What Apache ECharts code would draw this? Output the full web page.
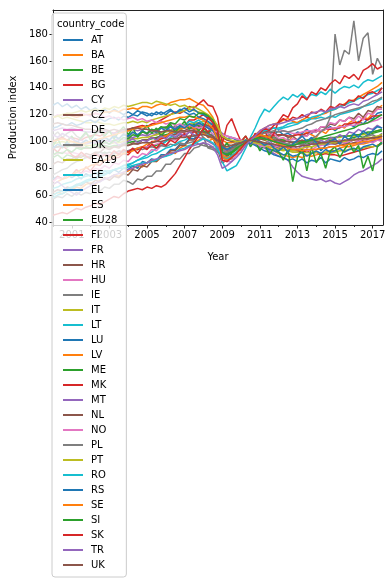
<!DOCTYPE html>
<html><head><meta charset="utf-8">
<script src="https://cdn.jsdelivr.net/npm/echarts@6/dist/echarts.min.js"></script>
<style>html,body{margin:0;padding:0;background:#fff}#c{width:392px;height:581px}</style>
</head><body><div id="c"></div>
<script>
// Quarterly readings, first point Jan 2000, step one quarter
const START_YEAR = 2000;
const STEP = 0.25;
const countries = ["AT","BA","BE","BG","CY","CZ","DE","DK","EA19","EE","EL","ES","EU28","FI","FR","HR","HU","IE","IT","LT","LU","LV","ME","MK","MT","NL","NO","PL","PT","RO","RS","SE","SI","SK","TR","UK"];
const xTickLabels = [2001,2003,2005,2007,2009,2011,2013,2015,2017];
const xMinorTicks = [2000,2002,2004,2006,2008,2010,2012,2014,2016];
const yTickLabels = [40,60,80,100,120,140,160,180];

const AT = [72,74,72,75, 73,75,72,76, 74,77,74,78, 76,79,77,80, 79,82,80,85, 84,87,86,90, 90,94,94,98, 98,102,102,106, 107,104,105,98, 88,86,90,91, 97,98,102,102, 107,107,108,105, 108,105,106,104, 107,106,109,106, 109,108,109,111, 108,111,111,113, 111,115,113,117, 117,121,122];
const BA = [60,62,61,63, 64,66,65,68, 69,68,71,72, 73,75,74,77, 78,80,82,81, 84,86,85,88, 90,92,91,95, 97,96,99,101, 103,100,102,98, 93,95,94,97, 98,101,99,103, 104,102,105,101, 99,102,100,104, 106,104,107,105, 103,108,106,110, 109,112,110,114, 116,113,118,117, 121,124,127];
const BE = [88,90,87,90, 89,87,90,88, 88,91,89,92, 89,91,91,93, 92,94,94,96, 95,97,97,99, 100,102,103,105, 104,107,107,106, 108,106,104,97, 88,89,91,94, 97,100,101,102, 104,103,102,100, 99,98,98,97, 98,99,98,99, 100,99,100,101, 100,101,99,102, 103,104,103,105, 106,107,108];
const BG = [70,74,72,75, 75,79,76,81, 78,83,82,86, 86,88,88,91, 90,94,94,96, 96,100,100,102, 103,107,107,112, 111,116,116,118, 120,117,115,104, 92,89,94,94, 98,99,102,102, 107,107,107,104, 105,105,104,104, 105,105,106,107, 108,108,109,109, 110,110,113,113, 114,114,117,116, 119,119,120];
const CY = [95,96,97,96, 98,97,99,98, 99,100,99,101, 100,101,102,101, 102,103,104,105, 104,106,105,107, 108,107,109,110, 111,112,113,114, 115,114,113,110, 106,104,103,102, 101,100,99,98, 96,95,93,91, 89,88,86,81, 77,74,73,72, 71,72,70,71, 69,68,70,72, 75,77,78,80, 82,84,87];
const CZ = [62,64,63,66, 65,68,67,70, 68,71,70,73, 71,74,73,76, 75,79,78,82, 81,85,85,89, 89,93,93,97, 97,101,101,105, 107,103,103,94, 84,86,87,92, 94,100,101,105, 105,108,105,107, 104,105,103,104, 101,105,104,108, 107,111,110,113, 112,116,115,118, 117,121,118,123, 122,126,125];
const DE = [90,91,92,91, 92,91,90,89, 89,90,90,91, 90,91,92,92, 93,94,95,96, 96,97,98,99, 101,103,105,106, 107,109,110,111, 112,111,108,102, 86,85,88,91, 95,99,102,104, 107,109,110,110, 109,108,107,106, 106,107,108,108, 109,108,109,110, 110,111,111,112, 112,113,113,114, 115,116,118];
const DK = [104,107,103,106, 108,104,102,106, 103,106,107,103, 101,105,102,106, 103,107,104,108, 105,109,106,110, 111,108,112,110, 113,110,111,107, 103,95,94,92, 90,91,93,94, 97,99,101,102, 103,104,102,103, 101,100,102,99, 100,101,99,100, 101,99,100,102, 100,98,101,99, 102,101,103,104, 105,103,106];
const EA19 = [98,99,100,99, 100,99,98,97, 97,98,98,99, 98,99,99,100, 101,102,102,103, 103,104,105,106, 107,108,110,111, 112,113,114,114, 115,114,112,106, 94,92,93,95, 97,99,101,102, 104,104,104,103, 102,101,100,99, 99,100,101,101, 101,101,102,102, 103,103,104,104, 104,105,105,106, 107,108,109];
const EE = [60,62,63,65, 66,68,69,71, 72,73,75,76, 77,79,80,82, 82,84,86,88, 90,92,95,97, 100,103,106,108, 112,115,114,116, 113,110,105,98, 85,78,80,82, 88,95,103,110, 118,124,122,126, 130,133,131,135, 133,136,132,135, 134,137,135,139, 136,139,141,140, 142,140,144,146, 145,147,149];
const EL = [127,129,126,128, 125,127,124,126, 123,125,122,124, 121,124,122,120, 122,120,123,121, 119,121,120,122, 120,123,121,124, 122,120,121,118, 117,115,112,108, 104,102,103,101, 100,101,99,97, 95,93,92,90, 89,88,86,87, 85,87,84,86, 85,88,84,87, 86,85,88,86, 87,89,88,90, 91,90,93];
const ES = [118,119,120,120, 119,118,119,120, 120,121,120,122, 122,123,122,124, 124,125,124,126, 126,125,127,128, 127,129,130,131, 131,132,130,128, 127,123,118,110, 101,99,99,100, 100,101,100,99, 98,97,95,93, 91,90,89,88, 89,88,90,89, 90,91,92,93, 93,95,96,96, 97,98,98,99, 100,101,101];
const EU28 = [95,96,97,96, 97,96,95,95, 95,96,96,97, 96,97,97,98, 99,100,100,101, 101,102,103,104, 105,106,108,109, 110,111,112,112, 113,112,110,104, 93,91,92,94, 97,99,101,102, 104,104,103,103, 102,101,100,99, 99,100,101,101, 102,102,102,103, 103,104,104,104, 105,105,106,107, 107,108,109];
const FI = [100,102,103,101, 103,102,101,103, 104,105,104,106, 107,106,108,107, 109,110,111,112, 111,113,114,116, 118,120,122,121, 123,126,125,128, 131,127,126,118, 99,93,95,96, 97,100,102,103, 104,103,101,100, 98,97,95,94, 93,92,93,91, 92,90,91,90, 90,89,90,91, 92,93,94,95, 96,97,99];
const FR = [108,109,110,109, 110,109,108,107, 107,108,107,108, 107,106,107,108, 108,109,108,109, 109,108,109,110, 110,111,110,111, 111,112,112,113, 112,111,109,104, 95,94,95,97, 98,99,101,101, 103,102,102,101, 100,99,98,97, 98,98,97,98, 97,98,97,98, 98,99,99,98, 99,98,99,100, 100,101,102];
const HR = [83,85,84,87, 87,89,88,91, 90,92,92,95, 94,96,95,98, 97,99,98,101, 101,103,102,105, 104,106,105,108, 108,110,109,111, 111,112,110,108, 103,101,100,100, 100,100,99,99, 99,98,98,96, 95,94,94,93, 93,94,93,94, 94,95,95,96, 96,97,98,98, 99,100,101,102, 102,103,104];
const HU = [70,73,72,75, 74,77,76,78, 77,80,79,82, 80,84,83,86, 85,89,88,91, 90,94,93,97, 97,101,101,104, 104,108,107,110, 111,107,106,97, 86,85,85,90, 92,99,101,105, 104,107,105,106, 102,103,100,102, 101,104,104,107, 107,111,111,114, 113,116,115,118, 115,119,116,121, 120,124,124];
const IE = [75,77,79,80, 83,85,86,88, 89,90,92,91, 92,91,93,92, 93,94,95,94, 95,96,95,97, 96,98,97,99, 98,99,100,98, 97,96,95,94, 96,98,97,99, 100,101,99,103, 104,102,105,103, 101,99,98,100, 99,97,100,102, 104,107,110,118, 180,157,168,165, 190,160,177,181, 150,162,155];
const IT = [118,119,117,118, 117,116,115,114, 114,115,114,113, 113,112,113,114, 114,115,114,115, 114,116,117,118, 119,120,121,122, 123,124,123,122, 121,119,115,108, 96,94,95,97, 98,100,101,101, 102,101,99,97, 96,94,93,92, 92,91,92,91, 92,91,92,91, 92,93,93,94, 94,95,95,96, 96,97,98];
const LT = [58,60,61,63, 65,67,68,70, 71,72,74,75, 77,79,80,82, 83,84,86,87, 88,90,91,93, 95,96,98,100, 101,103,104,106, 106,105,104,100, 90,88,89,92, 95,99,102,104, 106,108,109,110, 110,111,113,114, 114,116,115,117, 117,118,117,119, 118,120,121,122, 123,124,126,127, 128,130,132];
const LU = [110,111,113,112, 114,112,113,115, 116,114,117,115, 117,118,116,119, 118,120,119,122, 121,119,122,120, 122,124,121,123, 125,122,124,121, 120,118,114,106, 92,90,93,95, 97,100,101,99, 98,96,94,93, 92,90,91,89, 90,92,89,91, 93,91,94,92, 93,95,92,94, 95,93,96,97, 98,96,99];
const LV = [68,70,72,73, 75,77,79,80, 82,83,85,86, 88,89,90,91, 92,93,95,96, 98,99,101,103, 104,106,108,109, 110,111,110,108, 106,104,102,98, 90,88,89,92, 96,99,102,105, 108,110,112,113, 114,116,117,115, 114,116,118,117, 118,120,121,123, 124,126,128,130, 131,133,135,137, 139,141,144];
const ME = [97,102,95,100, 104,98,103,107, 101,106,110,104, 108,102,107,111, 105,110,103,108, 112,106,110,104, 108,113,107,111, 115,109,113,108, 112,106,110,101, 94,99,92,97, 100,104,96,101, 93,98,90,95, 92,86,94,70, 88,95,78,96, 84,91,80,93, 96,88,94,99, 92,97,80,89, 78,96,100];
const MK = [95,92,97,94, 90,88,92,89, 87,91,88,90, 89,93,90,94, 92,95,91,96, 94,98,95,99, 97,101,99,103, 106,102,108,104, 110,107,112,104, 98,112,117,108, 100,104,98,106, 103,108,101,106, 115,120,118,125, 128,134,131,137, 135,140,138,143, 146,143,149,147, 150,146,153,155, 158,154,156];
const MT = [105,103,106,104, 102,100,101,99, 100,98,101,99, 98,100,97,99, 100,102,99,101, 100,103,101,104, 102,105,103,106, 104,107,105,103, 102,100,98,96, 92,94,93,96, 98,101,99,102, 100,98,101,97, 96,99,95,98, 94,97,95,99, 98,101,99,103, 102,105,103,107, 106,109,107,110, 109,112,110];
const NL = [95,96,96,97, 97,96,96,95, 95,96,95,96, 95,96,96,97, 97,98,98,99, 99,99,100,100, 101,102,102,103, 103,104,104,105, 105,104,103,100, 95,94,95,96, 98,99,101,101, 102,101,102,101, 101,100,100,99, 100,101,100,101, 100,99,98,99, 98,99,100,100, 101,101,102,102, 103,103,104];
const NO = [118,120,119,121, 120,119,121,120, 119,121,120,118, 119,117,118,116, 117,118,116,117, 115,116,114,115, 113,114,112,113, 111,112,111,110, 111,110,108,107, 105,104,103,102, 101,100,99,99, 97,96,97,95, 97,98,96,95, 94,95,93,94, 96,97,98,99, 100,101,99,100, 101,100,102,100, 99,101,100];
const PL = [57,59,58,61, 59,62,60,62, 61,64,63,66, 65,68,68,71, 70,68,72,71, 74,74,78,78, 83,83,87,87, 91,91,95,96, 99,96,96,92, 91,92,94,96, 98,100,102,103, 105,106,107,108, 107,108,107,108, 109,110,112,113, 115,116,117,118, 120,121,122,123, 124,125,126,128, 130,131,133];
const PT = [118,119,120,121, 121,122,123,122, 123,124,123,125, 124,126,125,127, 126,127,128,129, 129,128,130,129, 128,127,128,126, 127,125,126,124, 122,120,117,112, 104,102,101,100, 100,101,100,99, 98,97,96,95, 94,93,94,93, 94,95,96,96, 97,98,98,99, 99,100,100,101, 101,102,102,103, 103,104,105];
const RO = [65,66,68,69, 70,72,73,74, 75,76,77,78, 78,79,80,80, 81,82,83,84, 84,85,86,88, 89,90,92,94, 95,97,98,100, 102,101,99,94, 88,87,89,92, 95,99,102,104, 106,108,109,110, 109,110,111,112, 113,115,116,118, 119,120,122,123, 124,126,127,129, 130,132,133,135, 136,138,140];
const RS = [95,98,96,99, 97,100,98,101, 99,102,100,103, 101,104,102,105, 104,107,105,108, 106,109,107,110, 108,111,109,112, 110,113,111,114, 112,110,108,104, 96,94,96,98, 99,101,98,102, 100,97,99,95, 93,96,92,98, 101,104,100,103, 99,93,97,100, 102,98,104,101, 106,103,108,105, 108,111,110];
const SE = [100,101,102,101, 100,99,98,99, 100,101,102,103, 104,105,106,107, 108,109,110,111, 111,112,113,114, 115,116,117,118, 118,119,118,117, 116,113,110,102, 88,86,88,91, 95,99,102,103, 105,104,103,100, 98,97,95,94, 94,93,94,94, 94,95,95,96, 96,97,97,98, 98,99,100,100, 101,102,103];
const SI = [90,92,91,94, 92,95,94,96, 95,98,97,100, 98,101,100,103, 102,105,104,107, 106,109,108,111, 110,114,113,117, 116,119,118,121, 121,119,116,108, 92,90,92,95, 97,99,101,102, 103,102,101,100, 99,98,97,97, 98,99,100,101, 102,103,104,105, 106,107,108,109, 110,112,113,114, 116,118,120];
const SK = [45,46,47,46, 48,50,49,51, 52,54,53,55, 57,59,58,61, 63,64,65,64, 66,65,67,66, 68,72,76,82, 88,94,99,104, 110,118,114,108, 86,85,88,91, 95,99,102,104, 106,110,108,112, 114,117,115,118, 117,120,118,122, 121,124,122,126, 125,128,127,131, 130,134,132,136, 137,135,140];
const TR = [68,70,67,64, 62,60,63,65, 67,69,70,72, 73,75,76,77, 79,80,82,83, 84,86,87,88, 90,91,92,93, 94,96,97,98, 99,98,96,90, 80,82,85,88, 92,97,101,104, 108,110,112,113, 113,114,115,116, 117,118,120,121, 122,123,122,124, 125,126,125,127, 128,127,130,131, 133,135,137];
const UK = [113,114,113,112, 112,111,110,109, 109,108,108,109, 108,109,108,109, 109,110,110,109, 109,108,108,107, 108,108,107,107, 107,108,108,107, 107,106,104,101, 97,96,97,98, 99,100,101,100, 100,99,98,98, 97,96,96,96, 96,97,97,98, 98,99,99,100, 100,100,101,101, 101,102,102,102, 103,103,104];

const valuesByCountry = {AT,BA,BE,BG,CY,CZ,DE,DK,EA19,EE,EL,ES,EU28,FI,FR,HR,HU,IE,IT,LT,LU,LV,ME,MK,MT,NL,NO,PL,PT,RO,RS,SE,SI,SK,TR,UK};

const palette = ['#1f77b4','#ff7f0e','#2ca02c','#d62728','#9467bd','#8c564b','#e377c2','#7f7f7f','#bcbd22','#17becf'];
const FONT = 'DejaVu Sans';
const chart = echarts.init(document.getElementById('c'), null, {renderer: 'canvas'});

const series = countries.map((c, k) => ({
  name: c,
  type: 'line',
  xAxisIndex: 0, yAxisIndex: 0,
  showSymbol: false, symbol: 'none',
  color: palette[k % 10],
  lineStyle: {width: 1.5, color: palette[k % 10]},
  emphasis: {disabled: true},
  data: valuesByCountry[c].map((v, i) => [START_YEAR + i * STEP, v])
}));

const X_MIN = 2000, X_MAX = 2017.55, Y_MIN = 37.7, Y_MAX = 198;
const axisCol = '#222';
chart.setOption({
  animation: false,
  backgroundColor: '#fff',
  color: palette,
  grid: {left: 47, right: 9, top: 10, bottom: 356, containLabel: false},
  title: {text: 'country_code', left: 57, top: 19, padding: 0, z: 20,
    textStyle: {fontFamily: FONT, fontSize: 10, fontWeight: 'normal', color: '#000'}},
  legend: {
    orient: 'vertical', left: 52, top: 13,
    padding: [21, 9, 6, 11],
    itemGap: 3, itemWidth: 20, itemHeight: 2, icon: 'rect',
    backgroundColor: 'rgba(255,255,255,0.8)', borderColor: '#cccccc', borderWidth: 1, borderRadius: 3,
    textStyle: {fontFamily: FONT, fontSize: 10, color: '#000', lineHeight: 12, padding: [0,0,0,3]},
    selectedMode: false,
    data: countries
  },
  xAxis: [
    {type: 'value', min: X_MIN, max: X_MAX, position: 'bottom',
      name: 'Year', nameLocation: 'middle', nameGap: 27,
      nameTextStyle: {fontFamily: FONT, fontSize: 10, color: '#000'},
      axisLine: {show: true, onZero: false, lineStyle: {color: axisCol, width: 1}},
      axisTick: {show: true, length: 3.5, lineStyle: {color: axisCol}, customValues: xTickLabels},
      axisLabel: {show: true, customValues: xTickLabels, formatter: v => String(Math.round(v)), fontFamily: FONT, fontSize: 10, color: '#000', margin: 5},
      splitLine: {show: false}},
    {type: 'value', min: X_MIN, max: X_MAX, position: 'top',
      axisLine: {show: true, onZero: false, lineStyle: {color: axisCol, width: 1}},
      axisTick: {show: false}, axisLabel: {show: false}, splitLine: {show: false}},
    {type: 'value', min: X_MIN, max: X_MAX, position: 'bottom',
      axisLine: {show: false, onZero: false},
      axisTick: {show: true, length: 2, lineStyle: {color: axisCol}, customValues: xMinorTicks},
      axisLabel: {show: false}, splitLine: {show: false}}
  ],
  yAxis: [
    {type: 'value', min: Y_MIN, max: Y_MAX, position: 'left',
      name: 'Production index', nameLocation: 'middle', nameGap: 34, nameRotate: 90,
      nameTextStyle: {fontFamily: FONT, fontSize: 10, color: '#000'},
      axisLine: {show: true, onZero: false, lineStyle: {color: axisCol, width: 1}},
      axisTick: {show: true, length: 3.5, lineStyle: {color: axisCol}, customValues: yTickLabels},
      axisLabel: {show: true, customValues: yTickLabels, fontFamily: FONT, fontSize: 10, color: '#000', margin: 5},
      splitLine: {show: false}},
    {type: 'value', min: Y_MIN, max: Y_MAX, position: 'right',
      axisLine: {show: true, onZero: false, lineStyle: {color: axisCol, width: 1}},
      axisTick: {show: false}, axisLabel: {show: false}, splitLine: {show: false}}
  ],
  series: series
});
</script>
</body></html>
